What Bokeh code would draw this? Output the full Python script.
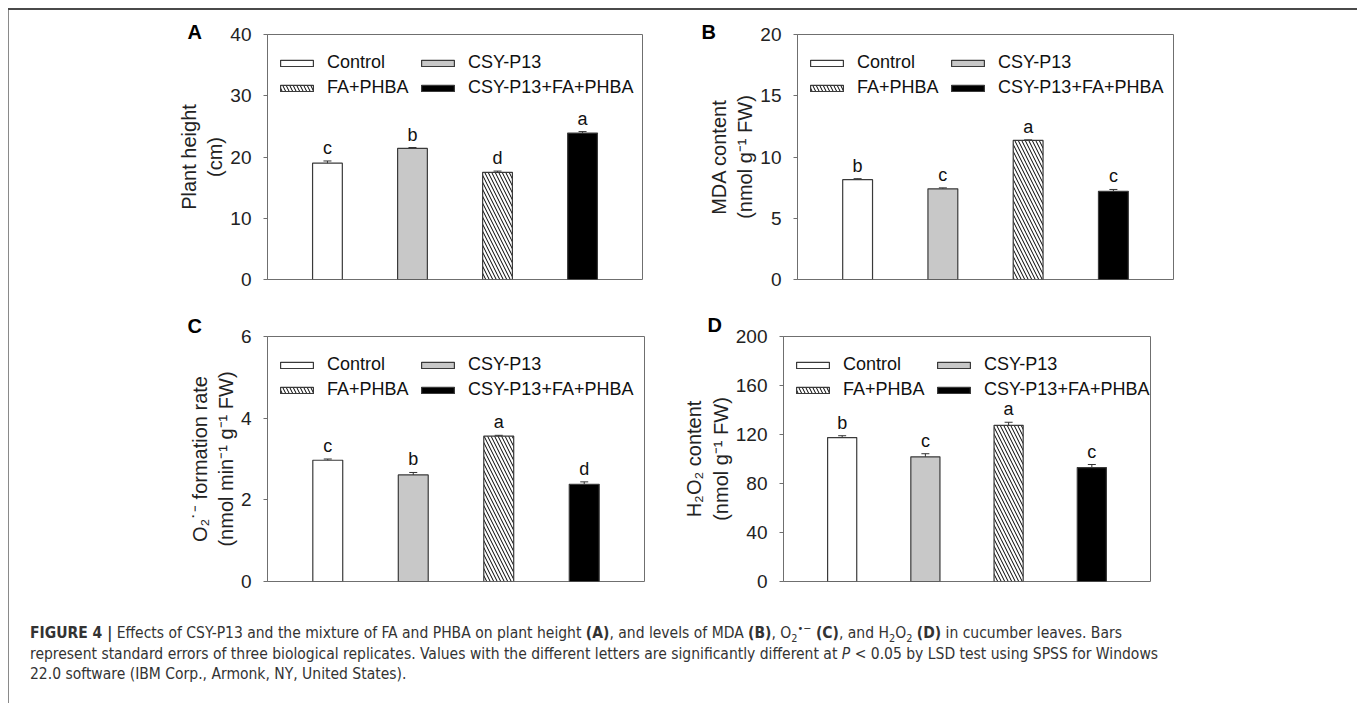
from bokeh.plotting import figure
from bokeh.models import (Range1d, FixedTicker, ColumnDataSource, Whisker, TeeHead,
                          Legend, LegendItem, Title, Div)
from bokeh.layouts import row, column
from bokeh.core.properties import value
from bokeh.embed import file_html
from bokeh.resources import INLINE

# ---------------- data ----------------
treatments = ["Control", "CSY-P13", "FA+PHBA", "CSY-P13+FA+PHBA"]

height_mean = [19.0, 21.4, 17.5, 23.9]
height_se = [0.35, 0.15, 0.2, 0.25]
height_sig = ["c", "b", "d", "a"]

mda_mean = [8.15, 7.4, 11.35, 7.2]
mda_se = [0.08, 0.08, 0.05, 0.15]
mda_sig = ["b", "c", "a", "c"]

o2_mean = [2.97, 2.61, 3.56, 2.38]
o2_se = [0.03, 0.06, 0.02, 0.06]
o2_sig = ["c", "b", "a", "d"]

h2o2_mean = [117.5, 101.8, 127.5, 93.0]
h2o2_se = [1.5, 2.5, 2.5, 2.5]
h2o2_sig = ["b", "c", "a", "c"]

ticks_a = [0, 10, 20, 30, 40]
ticks_b = [0, 5, 10, 15, 20]
ticks_c = [0, 2, 4, 6]
ticks_d = [0, 40, 80, 120, 160, 200]

# ---------------- style ----------------
FONT = "Liberation Sans"
fills = ["white", "#c8c8c8", "white", "black"]
hatches = ["blank", "blank", "left_diagonal_line", "blank"]
EDGE = "#3a3a3a"
GRAY = "#6f6f6f"
X0, X1 = 0.295, 4.705


def make_panel(letter, means, ses, sig, ylabel, ticks, width, height,
               bl, br, bt, bb, letter_dx, letter_standoff):
    p = figure(width=width, height=height, output_backend="svg", toolbar_location=None,
               x_range=Range1d(X0, X1), y_range=Range1d(ticks[0], ticks[-1]),
               min_border_left=bl, min_border_right=br, min_border_top=bt,
               min_border_bottom=bb, background_fill_color="white",
               border_fill_alpha=0)
    fh = height - bt - bb
    xs = list(range(1, len(treatments) + 1))
    src = ColumnDataSource(dict(
        x=xs, top=means, upper=[m + s for m, s in zip(means, ses)],
        lower=[m - s for m, s in zip(means, ses)], sig=sig,
        fill=fills, hatch=hatches, name=treatments))
    r = p.vbar(x="x", top="top", width=0.35, source=src, fill_color="fill",
               line_color=EDGE, line_width=1.2, hatch_pattern="hatch",
               hatch_color="black", hatch_scale=7, hatch_weight=1.0)
    w = Whisker(source=src, base="x", upper="upper", lower="lower",
                line_color="#333333", line_width=1,
                upper_head=TeeHead(size=8, line_color="#333333", line_width=1),
                lower_head=TeeHead(size=8, line_color="#333333", line_width=1))
    p.add_layout(w)
    p.text(x="x", y="upper", text="sig", source=src, text_align="center",
           text_baseline="bottom", y_offset=-3, text_font=value(FONT),
           text_font_size="18px", text_color="#111111")

    common = dict(label_text_font=FONT, label_text_font_size="18px",
                  label_text_color="#111111", label_height=21,
                  glyph_width=41, glyph_height=8, label_standoff=10,
                  spacing=4, padding=0, margin=0, border_line_alpha=0,
                  background_fill_alpha=0)
    leg_y = fh - 18 - 46
    leg1 = Legend(items=[LegendItem(label=treatments[0], renderers=[r], index=0),
                         LegendItem(label=treatments[2], renderers=[r], index=2)],
                  location=(9, leg_y), **common)
    leg2 = Legend(items=[LegendItem(label=treatments[1], renderers=[r], index=1),
                         LegendItem(label=treatments[3], renderers=[r], index=3)],
                  location=(150, leg_y), **common)
    p.add_layout(leg1)
    p.add_layout(leg2)

    p.add_layout(Title(text=letter, align="left", offset=letter_dx,
                       standoff=letter_standoff, text_font=FONT,
                       text_font_size="20px", text_font_style="bold",
                       text_color="black"), "above")

    p.xaxis.visible = False
    p.xgrid.visible = False
    p.ygrid.visible = False
    p.outline_line_color = GRAY
    p.outline_line_width = 1
    ax = p.yaxis[0]
    ax.ticker = FixedTicker(ticks=ticks)
    ax.axis_line_color = GRAY
    ax.major_tick_line_color = GRAY
    ax.major_tick_out = 4
    ax.major_tick_in = 0
    ax.minor_tick_line_color = None
    ax.major_label_text_font = FONT
    ax.major_label_text_font_size = "19px"
    ax.major_label_text_color = "#222222"
    ax.major_label_standoff = 12
    ax.axis_label = ylabel
    ax.axis_label_text_font = FONT
    ax.axis_label_text_font_size = "20px"
    ax.axis_label_text_font_style = "normal"
    ax.axis_label_text_color = "#222222"
    ax.axis_label_standoff = 1
    return p


pA = make_panel("A", height_mean, height_se, height_sig, "Plant height\n(cm)", ticks_a,
                672, 300, 259, 38, 26, 29, -80, -16)
pB = make_panel("B", mda_mean, mda_se, mda_sig, "MDA content\n(nmol g\u207b\u00b9 FW)", ticks_b,
                677, 300, 117, 184, 26, 29, -96, -16)
pC = make_panel("C", o2_mean, o2_se, o2_sig,
                "O\u2082\u02d9\u207b formation rate\n(nmol min\u207b\u00b9 g\u207b\u00b9 FW)", ticks_c,
                672, 290, 259, 36, 28, 17, -80, 0)
pD = make_panel("D", h2o2_mean, h2o2_se, h2o2_sig,
                "H\u2082O\u2082 content\n(nmol g\u207b\u00b9 FW)", ticks_d,
                677, 290, 97, 207, 28, 17, -76, 2)

SUB = '<sub style="line-height:0;font-size:70%">'
SUP = '<sup style="line-height:0;font-size:70%">'
caption_html = (
    '<div style="padding:20px 0 0 17px;font-family:\'Liberation Sans Narrow\',\'DejaVu Sans Condensed\',sans-serif;'
    'font-size:15.5px;line-height:20.5px;color:#333333;white-space:nowrap;">'
    "<b>FIGURE 4 |</b> Effects of CSY-P13 and the mixture of FA and PHBA on plant height "
    "<b>(A)</b>, and levels of MDA <b>(B)</b>, O" + SUB + "2</sub>" + SUP + "&#8226;&#8722;</sup> "
    "<b>(C)</b>, and H" + SUB + "2</sub>O" + SUB + "2</sub> <b>(D)</b> in cucumber leaves. Bars<br>"
    "represent standard errors of three biological replicates. Values with the different "
    "letters are significantly different at <i>P</i> &lt; 0.05 by LSD test using SPSS for Windows<br>"
    "22.0 software (IBM Corp., Armonk, NY, United States)."
    "</div>"
)
cap = Div(text=caption_html, width=1349, height=97)

layout = column(row(pA, pB), row(pC, pD), cap,
                styles={"position": "absolute", "left": "8px", "top": "8px",
                        "background-color": "white",
                        "box-shadow": "inset 0 2px 0 0 #4a4a4a, inset 1px 0 0 0 #8a8a8a, "
                                      "inset -2px 0 0 0 #7a7a7a"})

open("out.html", "w").write(file_html(layout, INLINE))
